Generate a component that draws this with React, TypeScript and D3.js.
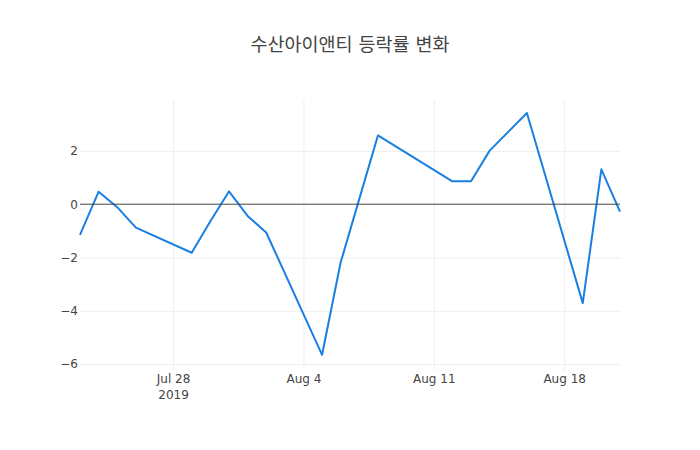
import { useEffect, useRef } from 'react';
import * as d3 from 'd3';

const title = '수산아이앤티 등락률 변화';

const dates = [
  '2019-07-23', '2019-07-24', '2019-07-25', '2019-07-26',
  '2019-07-29', '2019-07-30', '2019-07-31', '2019-08-01', '2019-08-02',
  '2019-08-05', '2019-08-06', '2019-08-07', '2019-08-08', '2019-08-09',
  '2019-08-12', '2019-08-13', '2019-08-14', '2019-08-16',
  '2019-08-19', '2019-08-20', '2019-08-21',
];

const changes = [
  -1.15, 0.47, -0.11, -0.88,
  -1.82, -0.64, 0.48, -0.44, -1.06,
  -5.65, -2.18, 0.2, 2.58, 2.15,
  0.86, 0.86, 2.01, 3.42,
  -3.71, 1.31, -0.28,
];

const yTicks = [-6, -4, -2, 0, 2];

const App = () => {
  const svgRef = useRef<SVGSVGElement>(null);

  useEffect(() => {
    const width = 700;
    const height = 450;
    const margin = { top: 100, right: 80, bottom: 80, left: 80 };
    const innerW = width - margin.left - margin.right;
    const innerH = height - margin.top - margin.bottom;
    const font = "'DejaVu Sans', 'Noto Sans CJK KR', sans-serif";

    if (!svgRef.current) return;
    const root = d3.select(svgRef.current);
    root.selectAll('*').remove();
    root.attr('width', width).attr('height', height);

    root.append('rect').attr('width', width).attr('height', height).attr('fill', '#fff');

    const parse = d3.timeParse('%Y-%m-%d');
    const data = dates.map((d, i) => ({ date: parse(d) as Date, value: changes[i] }));

    const xScale = d3.scaleTime()
      .domain(d3.extent(data, d => d.date) as [Date, Date])
      .range([0, innerW]);

    const yScale = d3.scaleLinear()
      .domain([-6.22, 3.91])
      .range([innerH, 0]);

    const svg = root.append('g')
      .attr('transform', `translate(${margin.left},${margin.top})`);

    // x grid + labels
    const xTicks = d3.timeWeek.range(xScale.domain()[0], xScale.domain()[1]);
    const fmt = d3.timeFormat('%b %-d');
    const xAxis = svg.append('g')
      .attr('transform', `translate(0,${innerH})`)
      .call(d3.axisBottom(xScale).tickValues(xTicks).tickSize(-innerH).tickFormat(() => ''));
    xAxis.select('.domain').remove();
    xAxis.selectAll('line').attr('stroke', '#eee').attr('stroke-width', 1);
    xAxis.selectAll('.tick').each(function (d, i) {
      const t = d3.select(this).append('text')
        .attr('fill', '#444')
        .attr('font-size', 12)
        .attr('font-family', font)
        .attr('text-anchor', 'middle');
      t.append('tspan').attr('x', 0).attr('y', 13).text(fmt(d as Date));
      if (i === 0) t.append('tspan').attr('x', 0).attr('y', 29).text('2019');
    });

    // y grid + labels
    const yAxis = svg.append('g')
      .call(d3.axisLeft(yScale).tickValues(yTicks).tickSize(-innerW).tickPadding(3));
    yAxis.select('.domain').remove();
    yAxis.selectAll('line').attr('stroke', d => (d === 0 ? 'none' : '#eee')).attr('stroke-width', 1);
    yAxis.selectAll('text')
      .attr('fill', '#444')
      .attr('font-size', 12)
      .attr('font-family', font)
      .attr('x', -2);

    const line = d3.line<{ date: Date; value: number }>()
      .x(d => xScale(d.date))
      .y(d => yScale(d.value));

    svg.append('path')
      .datum(data)
      .attr('fill', 'none')
      .attr('stroke', '#1a7fe3')
      .attr('stroke-width', 2)
      .attr('stroke-linejoin', 'round')
      .attr('d', line);

    // zero line
    svg.append('line')
      .attr('x1', 0)
      .attr('x2', innerW)
      .attr('y1', yScale(0))
      .attr('y2', yScale(0))
      .attr('stroke', '#444')
      .attr('stroke-width', 1);

    root.append('text')
      .attr('x', width / 2)
      .attr('y', 51)
      .attr('text-anchor', 'middle')
      .attr('fill', '#444')
      .attr('font-size', 18.5)
      .attr('font-family', font)
      .text(title);
  }, []);

  return <svg ref={svgRef} style={{ position: 'absolute', left: 0, top: 0 }}></svg>;
};

export default App;
